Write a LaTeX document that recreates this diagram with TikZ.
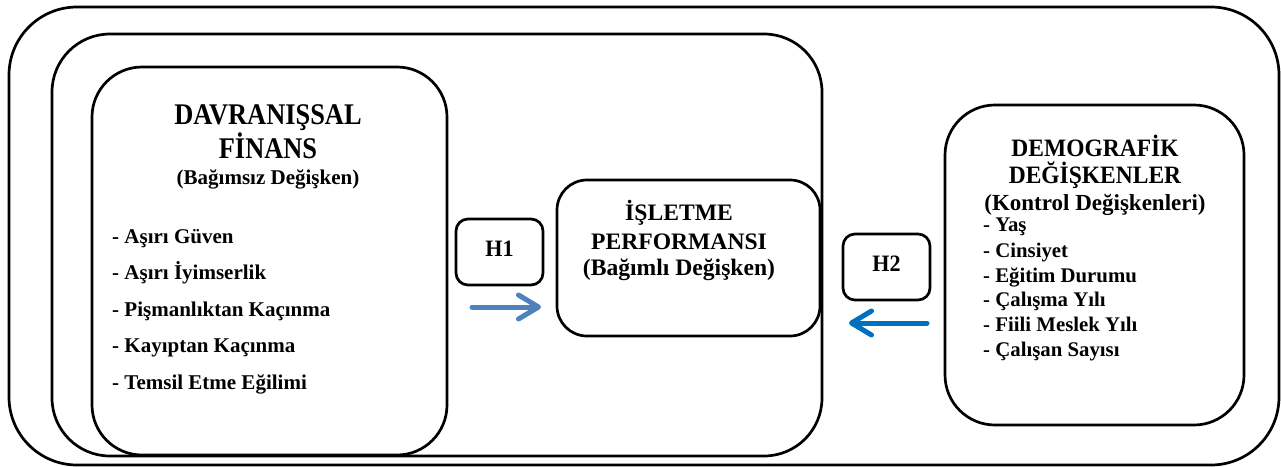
\documentclass[tikz,border=0pt]{standalone}
\usepackage{fontspec}
\setmainfont{Liberation Serif}
\newfontfamily\titlefont[FakeStretch=0.88]{Liberation Serif}
\newfontfamily\tallfont[FakeStretch=0.94]{Liberation Serif}
\usetikzlibrary{arrows.meta}
\definecolor{hblue}{HTML}{4F81BD}
\definecolor{hdblue}{HTML}{0070C0}
\newcommand\myfs[1]{\fontsize{#1}{#1}\selectfont}
\begin{document}
\begin{tikzpicture}[x=1pt,y=-1pt,
  box/.style={draw=black, line width=2.7pt, rectangle, inner sep=0pt, outer sep=0pt},
  txt/.style={inner sep=0pt, anchor=base, font=\bfseries},
  ltitle/.style={txt, font=\titlefont\bfseries\myfs{30pt}},
  lsub/.style={txt, font=\bfseries\myfs{21pt}},
  litem/.style={inner sep=0pt, anchor=base west, font=\bfseries\myfs{21pt}},
  ctitle/.style={txt, font=\bfseries\myfs{23.6pt}},
  rtitle/.style={txt, font=\tallfont\bfseries\myfs{25pt}},
  rsub/.style={txt, font=\bfseries\myfs{23pt}},
  ritem/.style={inner sep=0pt, anchor=base west, font=\bfseries\myfs{20.8pt}},
  hlabel/.style={txt, font=\tallfont\bfseries\myfs{23.5pt}},
  harrow/.style={line width=5pt, line cap=round, -{Straight Barb[length=20pt, width=24pt, round]}}
]
\useasboundingbox (0,0) rectangle (1281,466);

% frames
\node[box, rounded corners=68pt, minimum width=1270pt, minimum height=458pt] (outer) at (644,236) {};
\node[box, rounded corners=58pt, minimum width=770pt, minimum height=422pt] (middle) at (437,245) {};
\node[box, rounded corners=50pt, minimum width=355pt, minimum height=388pt] (left) at (269.5,261) {};
\node[box, rounded corners=30pt, minimum width=263pt, minimum height=156pt] (center) at (688.5,258) {};
\node[box, rounded corners=12pt, minimum width=87pt, minimum height=66pt] (h1box) at (499.5,252) {};
\node[box, rounded corners=12pt, minimum width=87pt, minimum height=66pt] (h2box) at (886.5,267) {};
\node[box, rounded corners=50pt, minimum width=299pt, minimum height=320pt] (right) at (1094.5,265) {};

% left box text
\node[ltitle] (lt1) at (268,124) {DAVRANIŞSAL};
\node[ltitle] (lt2) at (268,158) {FİNANS};
\node[lsub] (lt3) at (268,184) {(Bağımsız Değişken)};
\node[litem] (li1) at (112,243) {- Aşırı Güven};
\node[litem] (li2) at (112,279.5) {- Aşırı İyimserlik};
\node[litem] (li3) at (112,316) {- Pişmanlıktan Kaçınma};
\node[litem] (li4) at (112,352.5) {- Kayıptan Kaçınma};
\node[litem] (li5) at (112,389) {- Temsil Etme Eğilimi};

% center box text
\node[ctitle] (ct1) at (679,220.7) {İŞLETME};
\node[ctitle] (ct2) at (679,249.3) {PERFORMANSI};
\node[ctitle] (ct3) at (679,275) {(Bağımlı Değişken)};

% hypothesis labels
\node[hlabel] (h1) at (499.5,256) {H1};
\node[hlabel] (h2) at (886.5,271) {H2};

% right box text
\node[rtitle] (rt1) at (1095,156.7) {DEMOGRAFİK};
\node[rtitle] (rt2) at (1095,183) {DEĞİŞKENLER};
\node[rsub] (rt3) at (1095,210.7) {(Kontrol Değişkenleri)};
\node[ritem] (ri1) at (983,231.7) {- Yaş};
\node[ritem] (ri2) at (983,257.3) {- Cinsiyet};
\node[ritem] (ri3) at (983,282.7) {- Eğitim Durumu};
\node[ritem] (ri4) at (983,306.7) {- Çalışma Yılı};
\node[ritem] (ri5) at (983,331.7) {- Fiili Meslek Yılı};
\node[ritem] (ri6) at (983,356.7) {- Çalışan Sayısı};

% arrows
\coordinate (a1s) at (472,307);
\coordinate (a1e) at (541,307);
\coordinate (a2s) at (927,323);
\coordinate (a2e) at (849,323);
\draw[harrow, hblue] (a1s) -- (a1e);
\draw[harrow, hdblue] (a2s) -- (a2e);
\end{tikzpicture}
\end{document}
